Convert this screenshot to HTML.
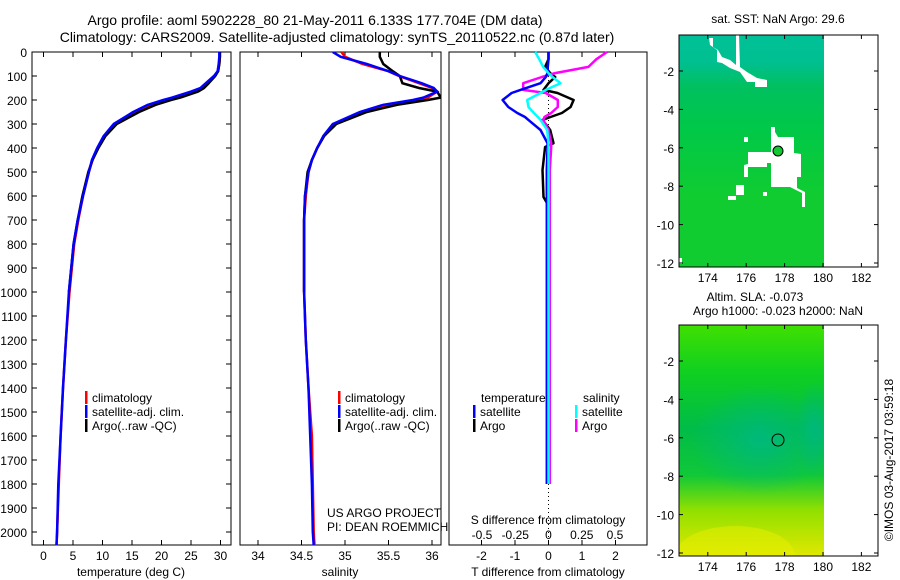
<!DOCTYPE html>
<html><head><meta charset="utf-8"><style>
body{margin:0;background:#fff}
svg{display:block;font-family:"Liberation Sans",sans-serif}
text{fill:#000}
</style></head><body>
<svg id="c" width="900" height="580" viewBox="0 0 900 580" xmlns="http://www.w3.org/2000/svg">
<defs>
<linearGradient id="sstg" x1="0" y1="0" x2="0" y2="1">
<stop offset="0" stop-color="#00c098"/><stop offset="0.12" stop-color="#00bf90"/><stop offset="0.22" stop-color="#00c060"/><stop offset="0.4" stop-color="#00c848"/><stop offset="0.7" stop-color="#10cc30"/><stop offset="1" stop-color="#10cc30"/>
</linearGradient>
<linearGradient id="slag" x1="0" y1="0" x2="0" y2="1">
<stop offset="0" stop-color="#40e000"/><stop offset="0.2" stop-color="#10d020"/><stop offset="0.45" stop-color="#00bc48"/><stop offset="0.65" stop-color="#10c838"/><stop offset="0.8" stop-color="#90e000"/><stop offset="1" stop-color="#e0e800"/>
</linearGradient>
<radialGradient id="slar" cx="0.5" cy="0.5" r="0.5"><stop offset="0" stop-color="#00b880" stop-opacity="0.9"/><stop offset="1" stop-color="#00b880" stop-opacity="0"/></radialGradient>
<clipPath id="slaclip"><rect x="679" y="325" width="145" height="231"/></clipPath>
</defs>
<g font-size="14">
<text x="315" y="25" text-anchor="middle">Argo profile: aoml 5902228_80 21-May-2011 6.133S 177.704E (DM data)</text>
<text x="337" y="42" text-anchor="middle">Climatology: CARS2009. Satellite-adjusted climatology: synTS_20110522.nc (0.87d later)</text>
</g>
<g id="panels"></g>
<g>
<text x="778" y="23" text-anchor="middle" font-size="12">sat. SST: NaN Argo: 29.6</text>
<rect x="679" y="35" width="145" height="232" fill="url(#sstg)"/>
<polygon fill="#fff" points="709,38 713,38 713,47 718,50 722,57 730,60 736,65 736,35 739,35 740,67 747,72 757,78 767,80 767,87 755,87 755,82 747,82 740,72 730,68 722,63 717,62 717,50 710,45"/>
<polygon fill="#fff" points="771,127 775,127 775,132 778,137 794,137 794,153 801,154 801,177 797,177 797,188 805,192 805,207 802,207 802,193 790,187 771,187 771,163 767,163 767,167 748,167 748,177 744,177 744,165 748,164 748,152 771,152"/>
<rect x="744" y="137" width="4" height="5" fill="#fff"/>
<rect x="736" y="185" width="8" height="10" fill="#fff"/>
<rect x="728" y="196" width="8" height="4" fill="#fff"/>
<rect x="763" y="192" width="4" height="4" fill="#fff"/>
<rect x="679" y="258" width="3" height="6" fill="#fff"/>
<circle cx="778" cy="151" r="5" fill="#10c830" stroke="#000" stroke-width="1"/>
<rect x="679" y="35" width="199" height="232" fill="none" stroke="#000"/>
<text x="755" y="301" text-anchor="middle" font-size="12">Altim. SLA: -0.073</text>
<text x="778" y="315" text-anchor="middle" font-size="12">Argo h1000: -0.023 h2000: NaN</text>
</g>
<g>
<g clip-path="url(#slaclip)">
<rect x="679" y="325" width="145" height="231" fill="url(#slag)"/>
<ellipse cx="760" cy="440" rx="70" ry="55" fill="url(#slar)"/>
<ellipse cx="815" cy="430" rx="20" ry="50" fill="url(#slar)"/>
<ellipse cx="735" cy="556" rx="60" ry="30" fill="#e8f000" opacity="0.5"/>
</g>
<circle cx="778" cy="440" r="6" fill="none" stroke="#000" stroke-width="1"/>
<rect x="679" y="325" width="199" height="231" fill="none" stroke="#000"/>
</g>
<g id="mapaxes"></g>
<text transform="translate(893,460) rotate(-90)" text-anchor="middle" font-size="12">©IMOS 03-Aug-2017 03:59:18</text>
</svg>
<script>
const NS="http://www.w3.org/2000/svg";
const depth=[0,20,50,80,100,130,150,165,190,200,220,250,300,350,400,450,500,600,700,800,1000,1200,1400,1600,1800,2000,2055];
const tempClim=[29.9,29.9,29.8,29.6,29.0,27.8,27.0,25.6,22.6,21.0,18.4,15.6,12.1,10.3,9.2,8.3,7.7,6.7,5.9,5.2,4.4,3.8,3.3,2.9,2.6,2.3,2.2];
const tempSat=[29.8,29.8,29.7,29.5,28.9,27.5,26.6,25.0,21.8,20.3,17.7,15.2,11.9,10.2,9.1,8.2,7.7,6.7,5.8,5.1,4.3,3.8,3.3,2.9,2.5,2.3,2.2];
const tempArgo=[29.9,29.9,29.8,29.6,29.1,28.0,27.2,26.2,23.2,21.6,19.0,16.2,12.4,10.5,9.3,8.3,7.6,6.6,5.8,5.1,4.3];
const salClim=[34.96,35.0,35.2,35.5,35.62,35.85,36.0,36.06,35.95,35.85,35.55,35.22,34.88,34.76,34.68,34.62,34.58,34.55,34.53,34.53,34.53,34.55,34.58,34.62,34.63,34.64,34.65];
const salSat=[34.86,34.95,35.25,35.5,35.63,35.88,36.02,36.06,35.9,35.78,35.44,35.17,34.86,34.75,34.68,34.62,34.58,34.54,34.53,34.53,34.53,34.55,34.58,34.6,34.62,34.63,34.64];
const salArgo=[35.4,35.4,35.44,35.55,35.63,35.66,35.85,36.06,36.1,35.95,35.6,35.25,34.9,34.76,34.68,34.62,34.57,34.54,34.53,34.53,34.53];
const dDepth=[0,30,62,88,104,130,158,171,200,229,254,271,283,325,380,396,492,604,640,900,1200,1500,1800];
const tDiffSat=[0,0,-0.02,-0.03,-0.08,-0.24,-0.84,-1.1,-1.37,-1.2,-0.93,-0.7,-0.6,-0.24,-0.03,-0.03,-0.05,-0.05,-0.05,-0.05,-0.05,-0.05,-0.05];
const tDiffArgo=[0,0,-0.1,0.05,0.2,0.0,-0.15,0.27,0.75,0.66,0.4,0.06,-0.18,0.05,0.15,-0.1,-0.18,-0.15,0,-0.02,0,0,0];
const sDiffSat=[-0.1,-0.07,-0.04,0.0,0.03,0.09,-0.02,-0.06,-0.16,-0.15,-0.11,-0.08,-0.06,-0.01,0,0,0,0,0,0,0,0,0];
const sDiffArgo=[0.44,0.36,0.3,0.05,-0.05,-0.19,-0.19,-0.02,0.07,0.07,0.02,-0.03,-0.04,0.0,0.02,0.02,0.01,0.01,0.01,0.01,0.01,0.01,0.01];
const depthTicks=[0,100,200,300,400,500,600,700,800,900,1000,1100,1200,1300,1400,1500,1600,1700,1800,1900,2000];
const tempTicks=[0,5,10,15,20,25,30];
const salTicks=[34,34.5,35,35.5,36];
const salTickLabels=["34","34.5","35","35.5","36"];
const tdTicks=[-2,-1,0,1,2];
const sdTicks=[-0.5,-0.25,0,0.25,0.5];
const sdTickLabels=["-0.5","-0.25","0","0.25","0.5"];
const lonTicks=[174,176,178,180,182];
const latTicks=[-2,-4,-6,-8,-10,-12];

const svg=document.getElementById('c'), P=document.getElementById('panels'), MA=document.getElementById('mapaxes');
function el(t,a,p){const e=document.createElementNS(NS,t);for(const k in a)e.setAttribute(k,a[k]);(p||P).appendChild(e);return e;}
function tx(x,y,s,anchor,p,size){const e=el('text',{x:x,y:y,'text-anchor':anchor||'middle','font-size':size||12},p);e.textContent=s;return e;}
const Y=d=>52+d*0.24;
const xT=v=>43.5+v*5.9;
const xS=v=>258+(v-34)*87;
const xTD=v=>548.5+v*33.5;
const xSD=v=>548.5+v*133;
function line(xs,ys,xf,col,name,w){
  const pts=xs.map((v,i)=>xf(v).toFixed(1)+','+Y(ys[i]).toFixed(1)).join(' ');
  const e=el('polyline',{points:pts,fill:'none',stroke:col,'stroke-width':w||2.5,'stroke-linejoin':'round'});
  
  
}
function frame(x0,x1,name){
  const r=el('rect',{x:x0,y:52,width:x1-x0,height:493,fill:'none',stroke:'#000'});
  
  
}
frame(32,231,'temperature-panel');
depthTicks.forEach(d=>{el('line',{x1:32,x2:37,y1:Y(d),y2:Y(d),stroke:'#000'});el('line',{x1:226,x2:231,y1:Y(d),y2:Y(d),stroke:'#000'});tx(27,Y(d)+5,String(d),'end');});
tempTicks.forEach(v=>{el('line',{x1:xT(v),x2:xT(v),y1:52,y2:57,stroke:'#000'});el('line',{x1:xT(v),x2:xT(v),y1:540,y2:545,stroke:'#000'});tx(xT(v),560,String(v));});
tx(131,576,'temperature (deg C)');
line(tempClim,depth,xT,'#f00','temp-climatology-line',2.5);
line(tempArgo,depth.slice(0,tempArgo.length),xT,'#000','temp-argo-line',2.5);
line(tempSat,depth,xT,'#00f','temp-satellite-line',2.5);
frame(240,441,'salinity-panel');
salTicks.forEach((v,i)=>{el('line',{x1:xS(v),x2:xS(v),y1:52,y2:57,stroke:'#000'});el('line',{x1:xS(v),x2:xS(v),y1:540,y2:545,stroke:'#000'});tx(xS(v),560,salTickLabels[i]);});
tx(340,576,'salinity');
const clip=el('clipPath',{id:'cp2'});el('rect',{x:240,y:52,width:201,height:493},clip);
const g2=el('g',{'clip-path':'url(#cp2)'});
function line2(xs,ys,col,name){const pts=xs.map((v,i)=>xS(v).toFixed(1)+','+Y(ys[i]).toFixed(1)).join(' ');const e=el('polyline',{points:pts,fill:'none',stroke:col,'stroke-width':2.5},g2);}
line2(salClim,depth,'#f00','sal-climatology-line');
line2(salArgo,depth.slice(0,salArgo.length),'#000','sal-argo-line');
line2(salSat,depth,'#00f','sal-satellite-line');
tx(327,517,'US ARGO PROJECT','start');
tx(327,531,'PI: DEAN ROEMMICH','start');
frame(449,647,'difference-panel');
tdTicks.forEach(v=>{el('line',{x1:xTD(v),x2:xTD(v),y1:52,y2:57,stroke:'#000'});el('line',{x1:xTD(v),x2:xTD(v),y1:540,y2:545,stroke:'#000'});tx(xTD(v),560,String(v));});
sdTicks.forEach((v,i)=>{tx(xSD(v),539,sdTickLabels[i]);});
tx(548,524,'S difference from climatology');
tx(548,576,'T difference from climatology');
el('line',{x1:548.5,x2:548.5,y1:52,y2:545,stroke:'#000','stroke-dasharray':'1,3'});
line(tDiffArgo,dDepth,xTD,'#000','tdiff-argo-line',2.5);
line(sDiffArgo,dDepth,xSD,'#f0f','sdiff-argo-line',2.5);
line(tDiffSat,dDepth,xTD,'#00f','tdiff-satellite-line',2.5);
line(sDiffSat,dDepth,xSD,'#0ff','sdiff-satellite-line',2.5);
function leg(x,y,col,label,name){const g=el('g',{});el('rect',{x:x,y:y-11,width:2.5,height:13,fill:col},g);tx(x+7,y,label,'start',g);}
leg(85,402,'#f00','climatology','legend-climatology');
leg(85,416,'#00f','satellite-adj. clim.','legend-satellite-adj');
leg(85,430,'#000','Argo(..raw -QC)','legend-argo');
leg(338,402,'#f00','climatology','legend2-climatology');
leg(338,416,'#00f','satellite-adj. clim.','legend2-satellite-adj');
leg(338,430,'#000','Argo(..raw -QC)','legend2-argo');
tx(481,402,'temperature','start');tx(583,402,'salinity','start');
leg(473,416,'#00f','satellite','legend-t-satellite');
leg(473,430,'#000','Argo','legend-t-argo');
leg(575,416,'#0ff','satellite','legend-s-satellite');
leg(575,430,'#f0f','Argo','legend-s-argo');
const lonX=v=>679+(v-172.5)*19.2;
[[35,267],[325,556]].forEach(([t,b],m)=>{
  const latY=v=>t+(-0.125-v)*19.2;
  lonTicks.forEach(v=>{el('line',{x1:lonX(v),x2:lonX(v),y1:t,y2:t+4,stroke:'#000'},MA);el('line',{x1:lonX(v),x2:lonX(v),y1:b-4,y2:b,stroke:'#000'},MA);tx(lonX(v),b+15,String(v),'middle',MA);});
  latTicks.forEach(v=>{el('line',{x1:679,x2:683,y1:latY(v),y2:latY(v),stroke:'#000'},MA);el('line',{x1:874,x2:878,y1:latY(v),y2:latY(v),stroke:'#000'},MA);tx(674,latY(v)+5,String(v),'end',MA);});
});
</script>
</body></html>
